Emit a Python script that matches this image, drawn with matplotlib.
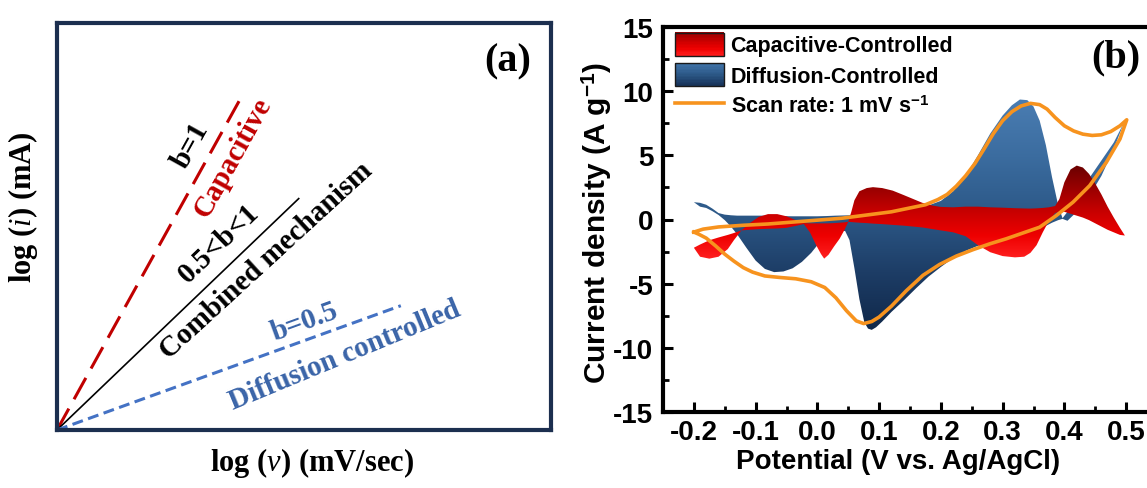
import numpy as np
import matplotlib
matplotlib.use("Agg")
import matplotlib.pyplot as plt
from matplotlib.patches import PathPatch, Rectangle
from matplotlib.path import Path
from matplotlib.colors import LinearSegmentedColormap
from matplotlib.legend_handler import HandlerBase
from matplotlib.ticker import MultipleLocator, FormatStrFormatter

plt.rcParams["axes.unicode_minus"] = False
plt.rcParams["mathtext.fontset"] = "custom"
plt.rcParams["mathtext.it"] = "Liberation Serif:italic"
plt.rcParams["mathtext.rm"] = "Liberation Sans:bold"
plt.rcParams["mathtext.bf"] = "Liberation Sans:bold"

# ---------------- (a) power-law b-value schematic ----------------
line_labels = ["b=1", "0.5<b<1", "b=0.5"]
line_names = ["Capacitive", "Combined mechanism", "Diffusion controlled"]
line_end_x = [0.369, 0.4905, 0.696]
line_end_y = [0.809, 0.570, 0.3054]

# ---------------- (b) CV at 1 mV/s with contributions ----------------
cv_fwd_v = [-0.200, -0.185, -0.160, -0.120, -0.080, -0.040, 0.000, 0.040, 0.080,
            0.120, 0.150, 0.175, 0.195, 0.210, 0.225, 0.240, 0.255, 0.270, 0.285,
            0.300, 0.315, 0.330, 0.345, 0.360, 0.372, 0.385, 0.400, 0.415, 0.430,
            0.445, 0.460, 0.475, 0.490, 0.501]
cv_fwd_i = [-0.98, -0.75, -0.58, -0.45, -0.35, -0.20, -0.05, 0.10, 0.35,
            0.60, 0.90, 1.15, 1.55, 1.95, 2.60, 3.40, 4.35, 5.50, 6.70,
            7.70, 8.40, 8.85, 9.05, 8.95, 8.60, 7.95, 7.30, 6.90, 6.65,
            6.55, 6.60, 6.85, 7.30, 7.77]
cv_rev_v = [0.501, 0.490, 0.468, 0.441, 0.414, 0.387, 0.360, 0.333, 0.306, 0.279,
            0.252, 0.225, 0.198, 0.171, 0.144, 0.120, 0.100, 0.088, 0.075, 0.063,
            0.047, 0.030, 0.012, -0.010, -0.035, -0.060, -0.085, -0.105, -0.120,
            -0.135, -0.150, -0.165, -0.180, -0.192, -0.200]
cv_rev_i = [7.77, 6.27, 4.46, 2.64, 1.35, 0.31, -0.60, -1.05, -1.50, -1.90,
            -2.35, -2.85, -3.50, -4.35, -5.55, -6.75, -7.60, -7.95, -8.11, -7.90,
            -7.10, -6.10, -5.30, -4.85, -4.62, -4.52, -4.40, -4.10, -3.75,
            -3.25, -2.70, -2.05, -1.45, -1.15, -0.98]

diff_v = [-0.200, -0.190, -0.180, -0.170, -0.160, -0.150, -0.140, -0.130, -0.115,
          -0.100, -0.085, -0.070, -0.055, -0.040, -0.025, -0.010, 0.000, 0.015,
          0.030, 0.045, 0.052, 0.060, 0.068, 0.076, 0.082, 0.088, 0.095, 0.105,
          0.120, 0.140, 0.160, 0.180, 0.200, 0.220, 0.240, 0.260, 0.280, 0.300,
          0.315, 0.328, 0.340, 0.350, 0.360, 0.370, 0.380, 0.390, 0.397, 0.405,
          0.420, 0.440, 0.460, 0.480, 0.497]
diff_upper = [1.35, 1.30, 1.15, 0.85, 0.50, 0.38, 0.33, 0.30, 0.30,
              0.30, 0.30, 0.28, 0.26, 0.25, 0.25, 0.25, 0.25, 0.27,
              0.30, 0.32, 0.33, 0.35, 0.37, 0.39, 0.40, 0.42, 0.44, 0.47,
              0.52, 0.65, 0.85, 1.10, 1.45, 2.20, 3.40, 5.00, 6.70, 8.10,
              8.90, 9.35, 9.30, 8.80, 7.70, 5.80, 3.30, 1.10, 0.10, 0.60,
              1.90, 3.20, 4.60, 6.00, 7.60]
diff_lower = [1.00, 1.00, 0.90, 0.65, 0.35, -0.05, -0.55, -1.15, -2.20,
              -3.20, -3.85, -4.10, -4.05, -3.80, -3.30, -2.60, -2.00, -1.20,
              -0.85, -0.90, -1.60, -3.80, -6.20, -8.00, -8.50, -8.60, -8.40, -7.95,
              -7.20, -6.30, -5.35, -4.45, -3.70, -3.00, -2.45, -2.05, -1.75, -1.50,
              -1.30, -1.15, -1.00, -0.85, -0.70, -0.50, -0.25, -0.05, 0.05, -0.10,
              0.60, 1.80, 3.40, 5.50, 7.60]

cap_v = [-0.200, -0.190, -0.175, -0.160, -0.145, -0.135, -0.123, -0.110, -0.095,
         -0.080, -0.065, -0.050, -0.035, -0.022, -0.012, -0.002, 0.006, 0.011,
         0.018, 0.027, 0.036, 0.044, 0.050, 0.055, 0.060, 0.068, 0.080, 0.090,
         0.105, 0.122, 0.140, 0.155, 0.170, 0.187, 0.200, 0.220, 0.240, 0.260,
         0.280, 0.300, 0.320, 0.335, 0.345, 0.355, 0.365, 0.375, 0.385, 0.392,
         0.400, 0.410, 0.420, 0.430, 0.440, 0.450, 0.460, 0.470, 0.480, 0.490, 0.498]
cap_upper = [-2.20, -1.95, -1.62, -1.40, -1.20, -1.05, -0.85, -0.30, 0.20,
             0.42, 0.42, 0.25, -0.05, -0.28, -0.30, -0.30, -0.30, -0.30,
             -0.30, -0.28, -0.25, -0.22, -0.18, 0.60, 1.50, 2.20, 2.45, 2.52,
             2.45, 2.25, 1.90, 1.60, 1.30, 1.08, 0.98, 0.95, 1.00, 1.00,
             0.95, 0.92, 0.88, 0.86, 0.85, 0.87, 0.90, 0.95, 1.05, 1.60,
             2.90, 3.90, 4.20, 4.05, 3.55, 2.80, 1.95, 1.00, 0.15, -0.65, -1.25]
cap_lower = [-2.65, -2.90, -3.05, -2.90, -2.30, -1.60, -0.85, -0.80, -0.75,
             -0.72, -0.70, -0.65, -0.50, -0.35, -1.00, -2.00, -2.70, -3.05,
             -2.75, -2.10, -1.50, -0.80, -0.18, -0.20, -0.22, -0.25, -0.28, -0.32,
             -0.36, -0.42, -0.48, -0.55, -0.62, -0.75, -0.85, -1.00, -1.30, -2.00,
             -2.55, -2.85, -2.95, -2.90, -2.60, -2.00, -1.00, -0.10, 0.50, 0.60,
             0.60, 0.45, 0.30, 0.15, -0.05, -0.30, -0.55, -0.80, -1.00, -1.20, -1.25]

x_ticks = [-0.2, -0.1, 0.0, 0.1, 0.2, 0.3, 0.4, 0.5]
y_ticks = [-15, -10, -5, 0, 5, 10, 15]

# ---------------- figure ----------------
W, H = 1147, 489
fig = plt.figure(figsize=(W / 100, H / 100), dpi=100)


def px_box(left, top, right, bottom):
    return [left / W, (H - bottom) / H, (right - left) / W, (bottom - top) / H]


SERIF = "Liberation Serif"
SANS = "Liberation Sans"

# ---- panel (a) ----
ax_a = fig.add_axes(px_box(57, 24, 551, 431))
ax_a.set_xlim(0, 1)
ax_a.set_ylim(0, 1)
ax_a.set_xticks([])
ax_a.set_yticks([])
for sp in ax_a.spines.values():
    sp.set_color("#1c2f4f")
    sp.set_linewidth(3)

line_styles = [
    dict(color="#c00000", lw=2.2, dashes=(8, 3.5)),
    dict(color="black", lw=1.2),
    dict(color="#4472c4", lw=2.2, dashes=(3.6, 1.8)),
]
for ex, ey, st in zip(line_end_x, line_end_y, line_styles):
    ax_a.plot([0, ex], [0, ey], solid_capstyle="butt", dash_capstyle="butt", **st)

txt_kw = dict(family=SERIF, weight="bold", fontsize=21, ha="center", va="center",
              rotation_mode="anchor", transform=ax_a.transAxes)
ax_a.text(0.271, 0.701, line_labels[0], rotation=61, color="black", **txt_kw)
ax_a.text(0.357, 0.672, line_names[0], rotation=61, color="#c00000", **txt_kw)
ax_a.text(0.327, 0.461, line_labels[1], rotation=44, color="black", **txt_kw)
ax_a.text(0.424, 0.418, line_names[1], rotation=42.5, color="black", **txt_kw)
ax_a.text(0.502, 0.267, line_labels[2], rotation=20, color="#3a64a8", **txt_kw)
ax_a.text(0.583, 0.185, line_names[2], rotation=22.5, color="#3a64a8", **txt_kw)
ax_a.text(0.913, 0.907, "(a)", family=SERIF, weight="bold", fontsize=29,
          ha="center", va="center", transform=ax_a.transAxes)

ax_a.set_xlabel(r"log ($v$) (mV/sec)", family=SERIF, weight="bold", fontsize=22)
ax_a.xaxis.set_label_coords(0.516, -0.079)
ax_a.xaxis.label.set_va("center")
ax_a.set_ylabel(r"log ($i$) (mA)", family=SERIF, weight="bold", fontsize=22)
ax_a.yaxis.set_label_coords(-0.069, 0.55)
ax_a.yaxis.label.set_va("center")

# ---- panel (b) ----
ax_b = fig.add_axes(px_box(663, 28, 1157, 413))

blue_cmap = LinearSegmentedColormap.from_list(
    "diff", ["#10284a", "#1d3d66", "#2c5887", "#3b6c9f", "#4a7db2"])
red_cmap = LinearSegmentedColormap.from_list(
    "cap", ["#ff2020", "#ee0000", "#c80000", "#9a0000", "#6a0000"])


def ribbon_patch(x, upper, lower):
    xs = np.concatenate([x, x[::-1]])
    ys = np.concatenate([upper, lower[::-1]])
    verts = np.column_stack([xs, ys])
    codes = [Path.MOVETO] + [Path.LINETO] * (len(verts) - 2) + [Path.CLOSEPOLY]
    return PathPatch(Path(verts, codes), facecolor="none", edgecolor="none")


def gradient_fill(ax, x, upper, lower, cmap, zorder):
    x = np.asarray(x, float)
    upper = np.asarray(upper, float)
    lower = np.asarray(lower, float)
    patch = ribbon_patch(x, upper, lower)
    ax.add_patch(patch)
    y0, y1 = min(lower.min(), upper.min()), max(lower.max(), upper.max())
    grad = np.linspace(0, 1, 256).reshape(-1, 1)
    im = ax.imshow(grad, extent=[x.min(), x.max(), y0, y1], origin="lower",
                   aspect="auto", cmap=cmap, zorder=zorder, interpolation="bilinear")
    im.set_clip_path(patch)


gradient_fill(ax_b, diff_v, diff_upper, diff_lower, blue_cmap, 1)
gradient_fill(ax_b, cap_v, cap_upper, cap_lower, red_cmap, 2)

cv_v = cv_fwd_v + cv_rev_v[1:]
cv_i = cv_fwd_i + cv_rev_i[1:]
(cv_line,) = ax_b.plot(cv_v, cv_i, color="#f7931e", lw=2.6, zorder=3,
                       solid_joinstyle="round")

ax_b.set_xlim(-0.25, 0.55)
ax_b.set_ylim(-15, 15)
ax_b.set_xticks(x_ticks)
ax_b.set_yticks(y_ticks)
ax_b.xaxis.set_minor_locator(MultipleLocator(0.05))
ax_b.yaxis.set_minor_locator(MultipleLocator(2.5))
ax_b.xaxis.set_major_formatter(FormatStrFormatter("%.1f"))
ax_b.yaxis.set_major_formatter(FormatStrFormatter("%d"))
ax_b.tick_params(which="major", direction="in", length=7, width=2.2,
                 labelsize=20, top=False, right=False)
ax_b.tick_params(which="minor", direction="in", length=4, width=2.0,
                 top=False, right=False)
ax_b.tick_params(axis="x", which="major", pad=5)
ax_b.tick_params(axis="y", which="major", pad=7)
for lab in ax_b.get_xticklabels() + ax_b.get_yticklabels():
    lab.set_family(SANS)
    lab.set_weight("bold")
for sp in ax_b.spines.values():
    sp.set_linewidth(3)
    sp.set_color("black")

ax_b.set_xlabel("Potential (V vs. Ag/AgCl)", family=SANS, weight="bold", fontsize=20)
ax_b.xaxis.set_label_coords(0.476, -0.126)
ax_b.xaxis.label.set_va("center")
ax_b.set_ylabel(r"Current density (A g$^{\mathbf{-1}}$)", family=SANS,
                weight="bold", fontsize=21.5)
ax_b.yaxis.set_label_coords(-0.134, 0.494)
ax_b.yaxis.label.set_va("center")

ax_b.text(1115.7, H - 58.3, "(b)", family=SERIF, weight="bold", fontsize=29,
          ha="center", va="center", transform=None)


class StripedPatchHandler(HandlerBase):
    def __init__(self, colors):
        super().__init__()
        self.colors = colors

    def create_artists(self, legend, orig_handle, xdescent, ydescent, width,
                       height, fontsize, trans):
        n = len(self.colors)
        arts = []
        for k, c in enumerate(self.colors):
            yb = -ydescent + height * (n - 1 - k) / n
            arts.append(Rectangle((-xdescent, yb), width, height / n + 0.2,
                                  facecolor=c, edgecolor="none", transform=trans))
        arts.append(Rectangle((-xdescent, -ydescent), width, height,
                              facecolor="none", edgecolor="#1a1a1a", lw=1.0,
                              transform=trans))
        return arts


cap_proxy = Rectangle((0, 0), 1, 1)
diff_proxy = Rectangle((0, 0), 1, 1)
cap_colors = [red_cmap(t) for t in np.linspace(0.75, 0.05, 16)]
diff_colors = [blue_cmap(t) for t in np.linspace(0.85, 0.15, 16)]
leg = ax_b.legend(
    [cap_proxy, diff_proxy, cv_line],
    ["Capacitive-Controlled", "Diffusion-Controlled", r"Scan rate: 1 mV s$^{\mathbf{-1}}$"],
    handler_map={cap_proxy: StripedPatchHandler(cap_colors),
                 diff_proxy: StripedPatchHandler(diff_colors)},
    loc="upper left", bbox_to_anchor=(0.024, 0.985), frameon=False,
    borderpad=0, borderaxespad=0, handlelength=2.26, handleheight=1.25,
    handletextpad=0.33, labelspacing=0.32,
    prop={"family": SANS, "weight": "bold", "size": 15.5},
)

fig.savefig("out.png", dpi=100)
